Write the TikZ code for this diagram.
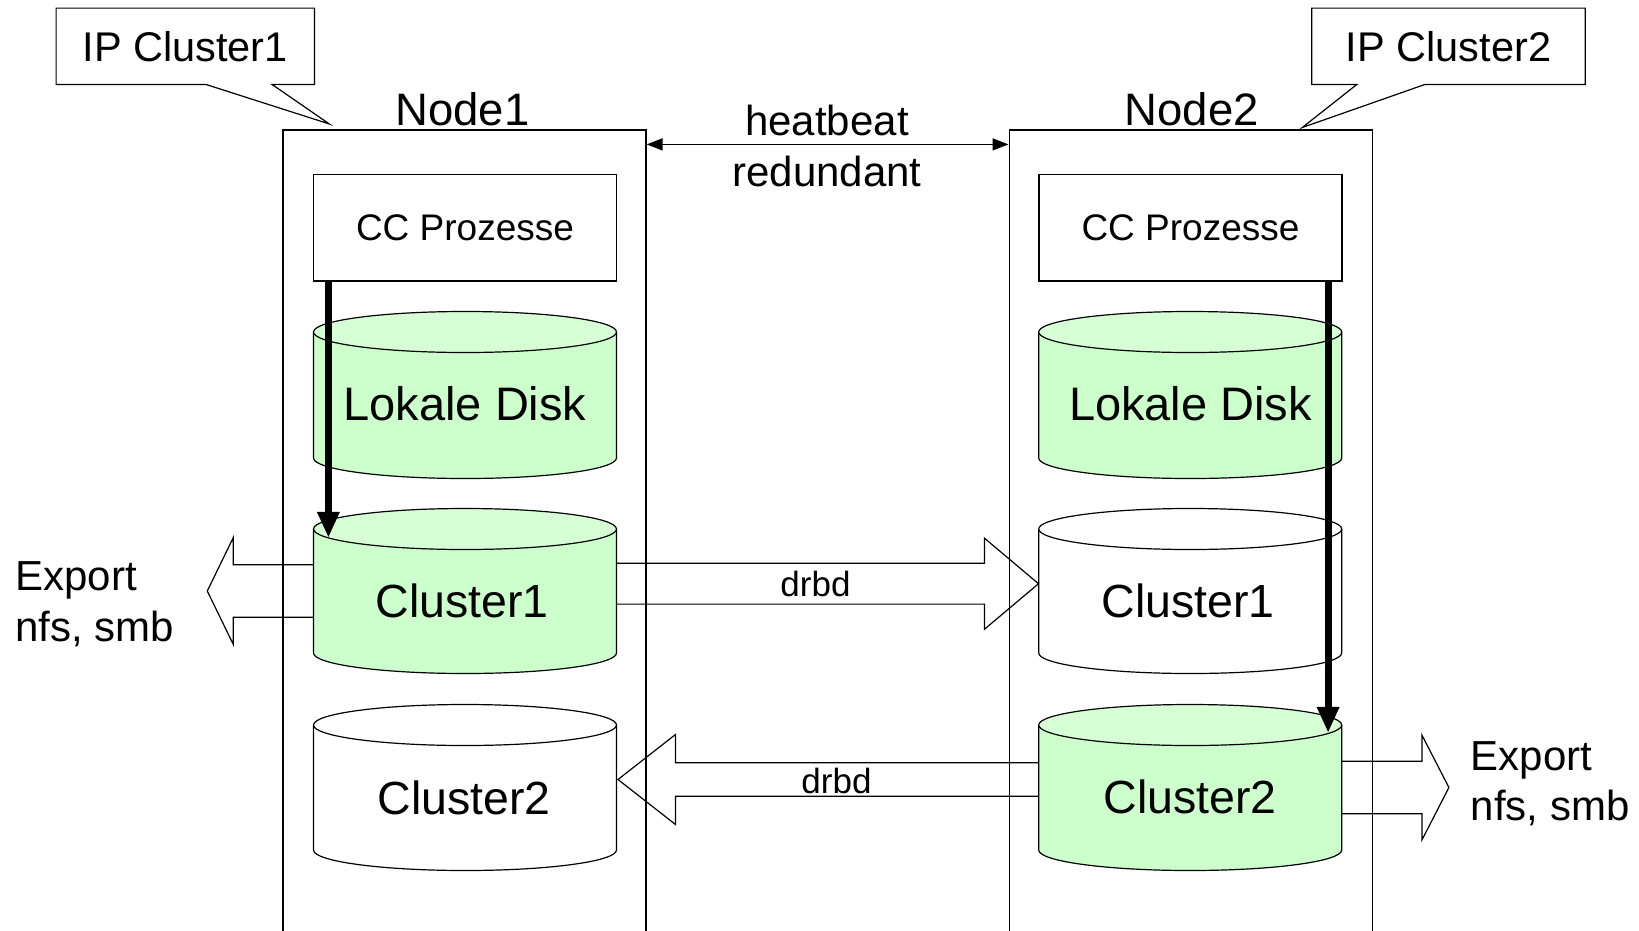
\documentclass[tikz,border=0pt]{standalone}
\usepackage{fontspec}
\setmainfont{Liberation Sans}
\usetikzlibrary{arrows.meta,calc}
\definecolor{diskgreen}{RGB}{204,255,204}
\definecolor{disktop}{RGB}{214,255,214}
\newcommand\fsz[1]{\fontsize{#1}{#1}\selectfont}
% cylinder: #1 name, #2 centre x, #3 top ellipse y, #4 bottom ellipse y, #5 body fill, #6 top fill
\newcommand\drum[6]{%
  \fill[#5] (#2-151.5,#3) -- (#2-151.5,#4) arc[start angle=180,end angle=0,x radius=151.5,y radius=20.5] -- (#2+151.5,#3) -- cycle;
  \draw[ln] (#2-151.5,#3) -- (#2-151.5,#4) arc[start angle=180,end angle=0,x radius=151.5,y radius=20.5] -- (#2+151.5,#3);
  \draw[ln,fill=#6] (#2,#3) ellipse[x radius=151.5,y radius=20.5];
  \node[inner sep=0pt,minimum width=303pt,minimum height={#4-#3}] (#1) at (#2,{(#3+#4)/2}) {};
}
% hollow block arrow: #1 start, #2 tip, #3 shaft half width, #4 head half width, #5 signed head length
\newcommand\barrow[5]{%
  \draw[blk] ($(#1)+(0,-#3)$) -- ($(#2)+({-(#5)},-#3)$) -- ($(#2)+({-(#5)},-#4)$) -- (#2)
    -- ($(#2)+({-(#5)},#4)$) -- ($(#2)+({-(#5)},#3)$) -- ($(#1)+(0,#3)$);
}
\begin{document}
\begin{tikzpicture}[x=1pt,y=-1pt,
  ln/.style={line width=1.2pt,draw=black},
  box/.style={ln,inner sep=0pt},
  txt/.style={inner sep=0pt,anchor=base},
  blk/.style={ln,line join=miter},
  bigarrow/.style={line width=7pt,-{Triangle[length=26pt,width=21pt]}},
  hb/.style={line width=1.5pt,{Triangle[length=16pt,width=12pt]}-{Triangle[length=16pt,width=12pt]}}]
\useasboundingbox (0,0) rectangle (1639,930);

% node frames
\node[box,minimum width=363pt,minimum height=830pt,anchor=north] (n1) at (464.5,129.4) {};
\node[box,minimum width=363pt,minimum height=830pt,anchor=north] (n2) at (1190.6,129.4) {};
\node[txt,font=\fsz{45.5}] (n1l) at ($(n1.north)+(-2,-4.4)$) {Node1};
\node[txt,font=\fsz{45.5}] (n2l) at ($(n2.north)+(1,-4.4)$) {Node2};

% IP callouts
\node[inner sep=0pt,minimum width=258pt,minimum height=76pt,font=\fsz{41.5}] (ip1) at (185.3,46.3) {IP Cluster1};
\node[inner sep=0pt,minimum width=273pt,minimum height=76pt,font=\fsz{41.5}] (ip2) at (1448.5,46.3) {IP Cluster2};
\coordinate (p1) at ($(n1.north west)+(47,-5.4)$);
\coordinate (p2) at ($(n2.north east)+(-70.4,-1.9)$);
\draw[ln,line join=miter] (ip1.south west) -- (ip1.north west) -- (ip1.north east) -- (ip1.south east)
  -- ($(ip1.south west)+(216,0)$) -- (p1) -- ($(ip1.south west)+(150,0)$) -- cycle;
\draw[ln,line join=miter] (ip2.south west) -- (ip2.north west) -- (ip2.north east) -- (ip2.south east)
  -- ($(ip2.south west)+(113,0)$) -- (p2) -- ($(ip2.south west)+(45,0)$) -- cycle;

% heartbeat
\draw[hb] ($(n1.north east)+(0,15)$) -- ($(n2.north west)+(0,15)$);
\node[txt,font=\fsz{42}] (hb1) at (827,135) {heatbeat};
\node[txt,font=\fsz{42}] (hb2) at (827,186.7) {redundant};

% CC boxes
\node[box,minimum width=303pt,minimum height=106.7pt,font=\fsz{37}] (cc1) at (465,227.7) {CC Prozesse};
\node[box,minimum width=303pt,minimum height=106.7pt,font=\fsz{37}] (cc2) at (1190.5,227.7) {CC Prozesse};

% cylinders
\drum{ldL}{465}{332}{458}{diskgreen}{disktop}
\drum{c1L}{465}{529}{653}{diskgreen}{disktop}
\drum{c2L}{465}{725}{850}{white}{white}
\drum{ldR}{1190.2}{332}{458}{diskgreen}{disktop}
\drum{c1R}{1190.2}{529}{653}{white}{white}
\drum{c2R}{1190.2}{725}{850}{diskgreen}{disktop}

\node[txt,font=\fsz{47}] (ldLt) at (465,420) {Lokale Disk};
\node[txt,font=\fsz{47}] (ldRt) at (1190.5,420) {Lokale Disk};
\node[txt,font=\fsz{46.5}] (c1Lt) at (462,617.5) {Cluster1};
\node[txt,font=\fsz{46.5}] (c1Rt) at (1188,617) {Cluster1};
\node[txt,font=\fsz{46.5}] (c2Lt) at (464,814) {Cluster2};
\node[txt,font=\fsz{46.5}] (c2Rt) at (1190,813) {Cluster2};

% drbd block arrows
\coordinate (d1s) at ($(c1L.east)+(0,-7.3)$);
\coordinate (d1t) at (c1R.west |- d1s);
\barrow{d1s}{d1t}{20.4}{45.5}{54}
\node[txt,font=\fsz{35}] (dl1) at (815.5,596.7) {drbd};
\coordinate (d2s) at ($(c2R.west)+(0,-8)$);
\coordinate (d2t) at ($(c2L.east |- d2s)+(1.3,0)$);
\barrow{d2s}{d2t}{16.7}{45}{-57.5}
\node[txt,font=\fsz{35}] (dl2) at (836.5,793) {drbd};

% export arrows
\coordinate (e1s) at (c1L.west);
\coordinate (e1t) at ($(c1L.west)+(-106,0)$);
\barrow{e1s}{e1t}{26.2}{53.5}{-26}
\coordinate (e2s) at (c2R.east);
\coordinate (e2t) at ($(c2R.east)+(107,0)$);
\barrow{e2s}{e2t}{26.2}{52.5}{27}
\node[txt,anchor=base west,font=\fsz{42}] (ex1a) at (15.4,590) {Export};
\node[txt,anchor=base west,font=\fsz{42}] (ex1b) at (15.4,641.7) {nfs, smb};
\node[txt,anchor=base west,font=\fsz{42}] (ex2a) at (1470.7,770) {Export};
\node[txt,anchor=base west,font=\fsz{42}] (ex2b) at (1470.7,820) {nfs, smb};

% thick process arrows
\coordinate (a1s) at ($(cc1.south west)+(15.5,0)$);
\coordinate (a1e) at ($(c1L.north)+(0,9)$);
\draw[bigarrow] (a1s) -- (a1s |- a1e);
\coordinate (a2s) at ($(cc2.south east)+(-14.5,0)$);
\coordinate (a2e) at ($(c2R.north)+(0,8)$);
\draw[bigarrow] (a2s) -- (a2s |- a2e);
\end{tikzpicture}
\end{document}
